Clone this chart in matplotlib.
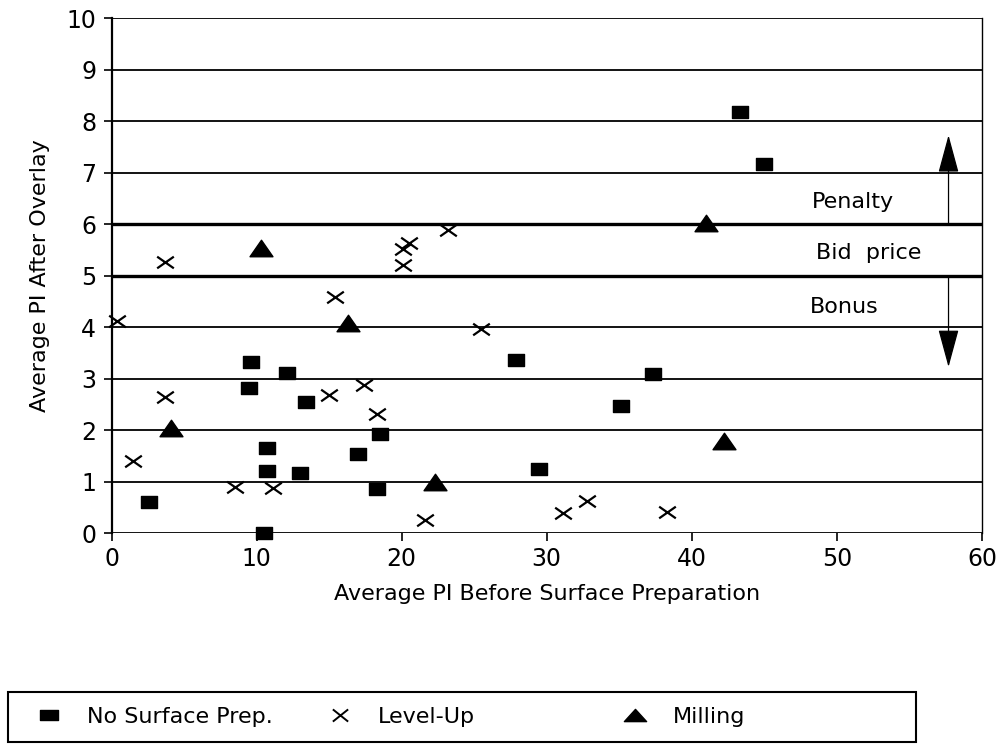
import matplotlib
matplotlib.use("Agg")
import matplotlib.pyplot as plt
from matplotlib.path import Path
from matplotlib.lines import Line2D
from matplotlib.patches import Rectangle, FancyArrowPatch

# --- data -------------------------------------------------------------
no_prep_x = [9.6, 9.5, 12.1, 13.4, 10.7, 10.7, 13.0, 17.0, 18.5, 18.3,
             2.6, 10.5, 27.9, 37.3, 35.1, 29.5, 43.3, 44.95]
no_prep_y = [3.33, 2.83, 3.12, 2.55, 1.65, 1.22, 1.17, 1.55, 1.92, 0.87,
             0.61, 0.0, 3.37, 3.10, 2.48, 1.25, 8.19, 7.18]

level_up_x = [3.7, 20.1, 20.5, 20.1, 15.4, 0.4, 3.7, 15.0, 17.4, 18.3,
              1.5, 8.5, 11.1, 23.2, 25.5, 21.6, 31.1, 32.8, 38.3]
level_up_y = [5.26, 5.53, 5.63, 5.22, 4.58, 4.13, 2.65, 2.69, 2.88, 2.32,
              1.41, 0.90, 0.89, 5.89, 3.97, 0.26, 0.39, 0.63, 0.42]

milling_x = [10.3, 16.3, 4.1, 41.0, 42.2, 22.3]
milling_y = [5.55, 4.09, 2.05, 6.02, 1.80, 1.00]

series_labels = ["No Surface Prep.", "Level-Up", "Milling"]
x_ticks = [0, 10, 20, 30, 40, 50, 60]
y_ticks = list(range(0, 11))
bid_low, bid_high = 5, 6

# --- marker shapes (slightly wide, as in the printed figure) -----------
def rect_marker(ratio):
    return Path([(-1, -ratio), (1, -ratio), (1, ratio), (-1, ratio), (-1, -ratio)],
                [Path.MOVETO, Path.LINETO, Path.LINETO, Path.LINETO, Path.CLOSEPOLY])

def tri_marker(ratio):
    return Path([(-1, -ratio), (1, -ratio), (0, ratio), (-1, -ratio)],
                [Path.MOVETO, Path.LINETO, Path.LINETO, Path.CLOSEPOLY])

def cross_marker(ratio):
    return Path([(-1, -ratio), (1, ratio), (-1, ratio), (1, -ratio)],
                [Path.MOVETO, Path.LINETO, Path.MOVETO, Path.LINETO])

plt.rcParams["font.family"] = "DejaVu Sans"

fig = plt.figure(figsize=(10.05, 7.46), dpi=100)
ax = fig.add_axes([0.111, 0.285, 0.866, 0.6905])

# horizontal rules at every unit; bid-price band edges drawn heavier
for yv in y_ticks:
    lw = 2.4 if yv in (bid_low, bid_high) else 1.3
    ax.axhline(yv, color="black", lw=lw, zorder=1)

ax.plot(no_prep_x, no_prep_y, linestyle="none", marker=rect_marker(0.8),
        ms=11, color="black", zorder=3, clip_on=False)
ax.plot(level_up_x, level_up_y, linestyle="none", marker=cross_marker(0.7),
        ms=12, color="black", mfc="none", mew=1.6, zorder=3, clip_on=False)
ax.plot(milling_x, milling_y, linestyle="none", marker=tri_marker(0.72),
        ms=16.5, color="black", zorder=3, clip_on=False)

ax.set_xlim(0, 60)
ax.set_ylim(0, 10)
ax.set_xticks(x_ticks)
ax.set_yticks(y_ticks)
ax.tick_params(axis="both", direction="out", length=6, width=1.2,
               labelsize=17, colors="black")
ax.tick_params(axis="x", pad=4)
ax.tick_params(axis="y", pad=5)

for side in ("top", "bottom"):
    ax.spines[side].set_visible(False)
ax.spines["left"].set_linewidth(1.6)
ax.spines["right"].set_linewidth(1.0)

ax.set_xlabel("Average PI Before Surface Preparation", fontsize=16, labelpad=9)
ax.set_ylabel("Average PI After Overlay", fontsize=16, labelpad=12)

# penalty / bonus annotations
ax.text(51.1, 6.44, "Penalty", fontsize=16, ha="center", va="center")
ax.text(52.2, 5.45, "Bid  price", fontsize=16, ha="center", va="center")
ax.text(50.5, 4.40, "Bonus", fontsize=16, ha="center", va="center")

arrow_x = 57.7
style = "-|>,head_length=2.4,head_width=0.65"
ax.add_patch(FancyArrowPatch((arrow_x, bid_high), (arrow_x, 7.73), arrowstyle=style,
                             mutation_scale=10, lw=0.9, color="black",
                             shrinkA=0, shrinkB=0, zorder=4))
ax.add_patch(FancyArrowPatch((arrow_x, bid_low), (arrow_x, 3.23), arrowstyle=style,
                             mutation_scale=10, lw=0.9, color="black",
                             shrinkA=0, shrinkB=0, zorder=4))

# legend box along the bottom
fig.add_artist(Rectangle((8 / 1005, 1 - 742 / 746), (916 - 8) / 1005, 50 / 746,
                         transform=fig.transFigure, fill=False, lw=1.5,
                         edgecolor="black"))
handles = [
    Line2D([], [], linestyle="none", marker=rect_marker(0.6), ms=13, color="black"),
    Line2D([], [], linestyle="none", marker=cross_marker(0.8), ms=11, color="black",
           mfc="none", mew=1.4),
    Line2D([], [], linestyle="none", marker=tri_marker(0.55), ms=16, color="black"),
]
marker_px = [49, 340, 635]
for h, lab, mx in zip(handles, series_labels, marker_px):
    fig.legend([h], [lab], loc="center left", frameon=False, fontsize=16,
               bbox_to_anchor=((mx - 11) / 1005, 1 - 717 / 746),
               handlelength=1.0, handletextpad=1.2, borderpad=0, borderaxespad=0)

fig.savefig("out.png", dpi=100)
